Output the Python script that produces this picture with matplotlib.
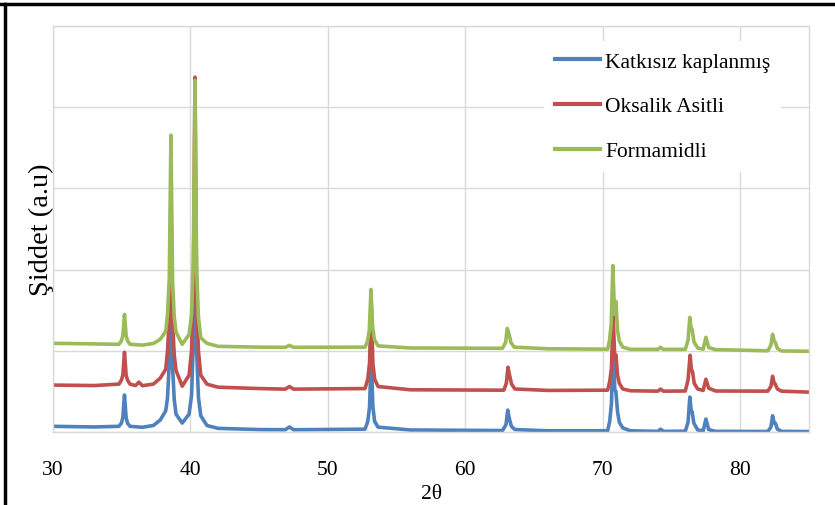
import matplotlib
matplotlib.use("Agg")
import matplotlib.pyplot as plt
from matplotlib.lines import Line2D

plt.rcParams['font.family'] = ['Liberation Serif', 'DejaVu Serif']

# ---- data: (2theta, intensity in a.u.) points ----
blue_pts = [(30.0, 70), (33.0, 62), (34.8, 70), (34.98, 110), (35.08, 178), (35.2, 455), (35.32, 178),
            (35.42, 110), (35.6, 70), (36.5, 58), (37.3, 80), (37.8, 147), (38.2, 260), (38.33, 420),
            (38.46, 850), (38.58, 2250), (38.7, 800), (38.82, 400), (38.95, 220), (39.4, 110), (39.9, 220),
            (40.08, 450), (40.21, 1100), (40.33, 3230), (40.45, 1000), (40.58, 430), (40.75, 200), (41.2, 80),
            (42.0, 45), (45.0, 30), (46.9, 28), (47.2, 62), (47.5, 28), (52.7, 35), (52.9, 130), (53.03, 310),
            (53.15, 950), (53.27, 310), (53.4, 130), (53.65, 60), (56.0, 25), (62.7, 18), (62.96, 92),
            (63.08, 270), (63.22, 150), (63.35, 70), (63.6, 30), (66.0, 15), (70.35, 15), (70.5, 130),
            (70.63, 352), (70.75, 1140), (70.87, 520), (70.95, 500), (71.07, 250), (71.2, 120), (71.45, 50),
            (72.0, 15), (74.0, 8), (74.2, 35), (74.4, 8), (76.0, 10), (76.2, 120), (76.33, 430), (76.43, 260),
            (76.5, 250), (76.62, 110), (76.9, 25), (77.3, 15), (77.5, 160), (77.7, 30), (78.2, 8), (82.0, 6),
            (82.23, 60), (82.35, 200), (82.47, 110), (82.55, 110), (82.7, 35), (83.0, 8), (85.0, 5)]

red_pts = [(30.0, 578), (33.0, 572), (34.8, 590), (34.98, 640), (35.08, 700), (35.2, 982), (35.32, 700),
           (35.42, 640), (35.6, 590), (36.0, 572), (36.25, 614), (36.5, 570), (37.3, 590), (37.8, 663),
           (38.2, 773), (38.33, 1000), (38.46, 1400), (38.58, 2900), (38.7, 1350), (38.82, 950), (38.95, 760),
           (39.4, 564), (39.9, 700), (40.08, 1000), (40.21, 1700), (40.33, 4370), (40.45, 1650), (40.58, 1000),
           (40.75, 700), (41.2, 589), (42.0, 552), (45.0, 535), (46.9, 528), (47.2, 560), (47.5, 528),
           (52.7, 535), (52.9, 650), (53.03, 850), (53.15, 1600), (53.27, 850), (53.4, 650), (53.65, 560),
           (56.0, 520), (62.8, 515), (62.98, 600), (63.1, 798), (63.24, 680), (63.36, 590), (63.6, 530),
           (66.0, 512), (70.35, 515), (70.5, 620), (70.63, 791), (70.75, 1448), (70.87, 900), (70.95, 950),
           (71.07, 700), (71.2, 600), (71.45, 530), (72.0, 508), (74.0, 503), (74.2, 528), (74.4, 503),
           (76.0, 505), (76.2, 640), (76.35, 945), (76.45, 760), (76.52, 748), (76.65, 600), (76.9, 530),
           (77.3, 512), (77.5, 650), (77.7, 540), (78.2, 505), (82.0, 503), (82.23, 560), (82.35, 687),
           (82.47, 600), (82.55, 589), (82.7, 530), (83.0, 503), (85.0, 491)]

green_pts = [(30.0, 1092), (33.0, 1085), (34.8, 1080), (34.98, 1125), (35.08, 1185), (35.2, 1448),
             (35.32, 1185), (35.42, 1125), (35.6, 1080), (36.5, 1070), (37.3, 1090), (37.8, 1141),
             (38.2, 1239), (38.33, 1450), (38.46, 1900), (38.58, 3656), (38.7, 1850), (38.82, 1420),
             (38.95, 1230), (39.4, 1080), (39.9, 1200), (40.08, 1450), (40.21, 2100), (40.33, 4331),
             (40.45, 2000), (40.58, 1420), (40.75, 1160), (41.2, 1092), (42.0, 1055), (45.0, 1045),
             (46.9, 1043), (47.2, 1067), (47.5, 1043), (52.7, 1045), (52.88, 1120), (53.01, 1250),
             (53.13, 1755), (53.25, 1300), (53.38, 1140), (53.65, 1060), (56.0, 1035), (62.7, 1031),
             (62.93, 1105), (63.05, 1276), (63.2, 1190), (63.32, 1100), (63.55, 1045), (66.0, 1025),
             (70.35, 1020), (70.48, 1120), (70.61, 1327), (70.73, 2049), (70.85, 1450), (70.95, 1607),
             (71.07, 1250), (71.2, 1120), (71.45, 1045), (72.0, 1018), (74.0, 1018), (74.2, 1043),
             (74.4, 1018), (76.0, 1018), (76.2, 1130), (76.33, 1411), (76.43, 1270), (76.5, 1264),
             (76.63, 1110), (76.9, 1035), (77.3, 1020), (77.5, 1166), (77.7, 1040), (78.2, 1015),
             (82.0, 1000), (82.23, 1070), (82.35, 1203), (82.47, 1120), (82.55, 1104), (82.7, 1030),
             (83.0, 998), (85.0, 994)]

series_names = ['Katkısız kaplanmış', 'Oksalik Asitli', 'Formamidli']
series_colors = ['#4F81BD', '#C0504D', '#9BBB59']
x_ticks = [30, 40, 50, 60, 70, 80]
y_grid = [0, 1000, 2000, 3000, 4000, 5000]

fig = plt.figure(figsize=(8.35, 5.06), dpi=100)
ax = fig.add_axes([53/835, 1 - 433/506, (809-53)/835, (433-27)/506])

for pts, name, col in zip([blue_pts, red_pts, green_pts], series_names, series_colors):
    xs, ys = zip(*pts)
    ax.plot(xs, ys, color=col, lw=2.6, label=name, solid_joinstyle='round')

ax.set_xlim(30, 85)
ax.set_ylim(0, 5000)
ax.set_xticks(x_ticks)
ax.set_yticks(y_grid)
ax.set_yticklabels([])
ax.tick_params(axis='both', length=0)
ax.tick_params(axis='x', labelsize=15.5, pad=20)
ax.grid(True, color='#D9D9D9', lw=1)
ax.set_axisbelow(True)
for s in ax.spines.values():
    s.set_color('#D9D9D9')
    s.set_linewidth(1)

ax.set_xlabel('2θ', fontsize=15.5, labelpad=4)
ax.set_ylabel('Şiddet (a.u)', fontsize=20.5, labelpad=-4)

leg = ax.legend(loc='upper left', bbox_to_anchor=(533/835, 1 - 31/506),
                bbox_transform=fig.transFigure, fontsize=15.5, frameon=True,
                facecolor='white', edgecolor='none', framealpha=1, fancybox=False,
                handlelength=2.1, handletextpad=0.25, labelspacing=1.15, borderpad=0.5)
for h in leg.get_lines():
    h.set_linewidth(3)

# outer black frame (top and left)
fig.add_artist(Line2D([0.0, 1.0], [1 - 5/506, 1 - 5/506], transform=fig.transFigure, color='black', lw=2.5))
fig.add_artist(Line2D([5/835, 5/835], [0.0, 1 - 5/506], transform=fig.transFigure, color='black', lw=2.5))

fig.savefig('out.png', dpi=100)
